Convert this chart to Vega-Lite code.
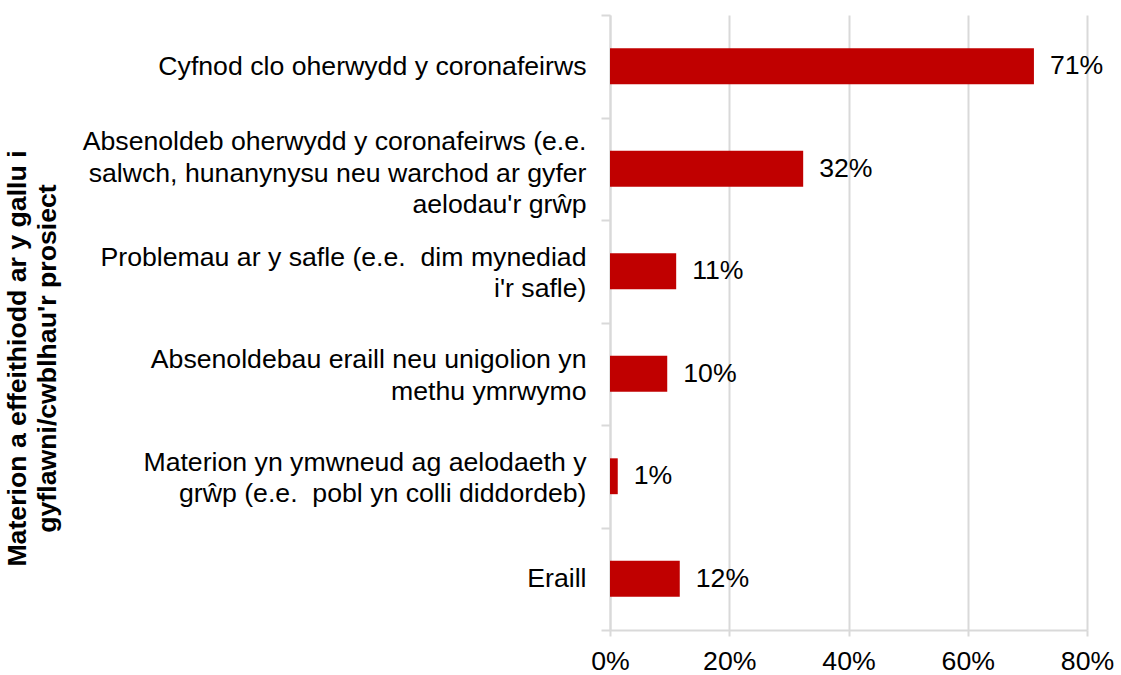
{
  "$schema": "https://vega.github.io/schema/vega-lite/v6.json",
  "width": 477,
  "height": 615,
  "autosize": {"type": "none"},
  "padding": {"left": 610, "top": 15, "right": 34, "bottom": 45},
  "background": "white",
  "config": {"font": "Liberation Sans", "view": {"stroke": null}},
  "data": {
    "values": [
      {"category": "Cyfnod clo oherwydd y coronafeirws", "value": 0.711},
      {"category": "Absenoldeb oherwydd y coronafeirws (e.e.|salwch, hunanynysu neu warchod ar gyfer|aelodau'r grŵp", "value": 0.324},
      {"category": "Problemau ar y safle (e.e.\u00a0 dim mynediad|i'r safle)", "value": 0.111},
      {"category": "Absenoldebau eraill neu unigolion yn|methu ymrwymo", "value": 0.096},
      {"category": "Materion yn ymwneud ag aelodaeth y|grŵp (e.e.\u00a0 pobl yn colli diddordeb)", "value": 0.013},
      {"category": "Eraill", "value": 0.117}
    ]
  },
  "encoding": {
    "y": {
      "field": "category",
      "type": "nominal",
      "sort": null,
      "scale": {"paddingInner": 0, "paddingOuter": 0},
      "axis": {
        "title": ["Materion a effeithiodd ar y gallu i", "gyflawni/cwblhau'r prosiect"],
        "titleFontSize": 26.67,
        "titleFontWeight": "bold",
        "titleColor": "#000000",
        "titleLineHeight": 30,
        "titleBaseline": "alphabetic",
        "titleAngle": -90,
        "titleAlign": "center",
        "titleX": -585,
        "titleY": 343,
        "labelExpr": "split(datum.label, '|')",
        "labelFontSize": 26.67,
        "labelColor": "#000000",
        "labelLimit": 0,
        "labelLineHeight": 31.5,
        "labelPadding": 15,
        "labelAlign": "right",
        "labelOffset": {
          "condition": [
            {"test": "length(split(datum.value, '|')) == 3", "value": -27},
            {"test": "length(split(datum.value, '|')) == 2", "value": -14}
          ],
          "value": 0
        },
        "domainColor": "#d9d9d9",
        "domainWidth": 2,
        "tickColor": "#d9d9d9",
        "tickWidth": 2,
        "tickSize": 9,
        "tickBand": "extent",
        "grid": false
      }
    },
    "x": {
      "field": "value",
      "type": "quantitative",
      "scale": {"domain": [0, 0.8]},
      "axis": {
        "title": null,
        "values": [0, 0.2, 0.4, 0.6, 0.8],
        "format": ".0%",
        "labelFontSize": 26.67,
        "labelColor": "#000000",
        "labelPadding": 12,
        "labelFlush": false,
        "grid": true,
        "gridColor": "#d9d9d9",
        "gridWidth": 2,
        "domainColor": "#d9d9d9",
        "domainWidth": 2,
        "tickColor": "#d9d9d9",
        "tickWidth": 2,
        "tickSize": 6
      }
    }
  },
  "layer": [
    {"mark": {"type": "bar", "color": "#C00000", "height": {"band": 0.35}}},
    {
      "mark": {"type": "text", "align": "left", "baseline": "middle", "dx": 16, "fontSize": 26.67, "color": "#000000"},
      "encoding": {"text": {"field": "value", "type": "quantitative", "format": ".0%"}}
    }
  ]
}
